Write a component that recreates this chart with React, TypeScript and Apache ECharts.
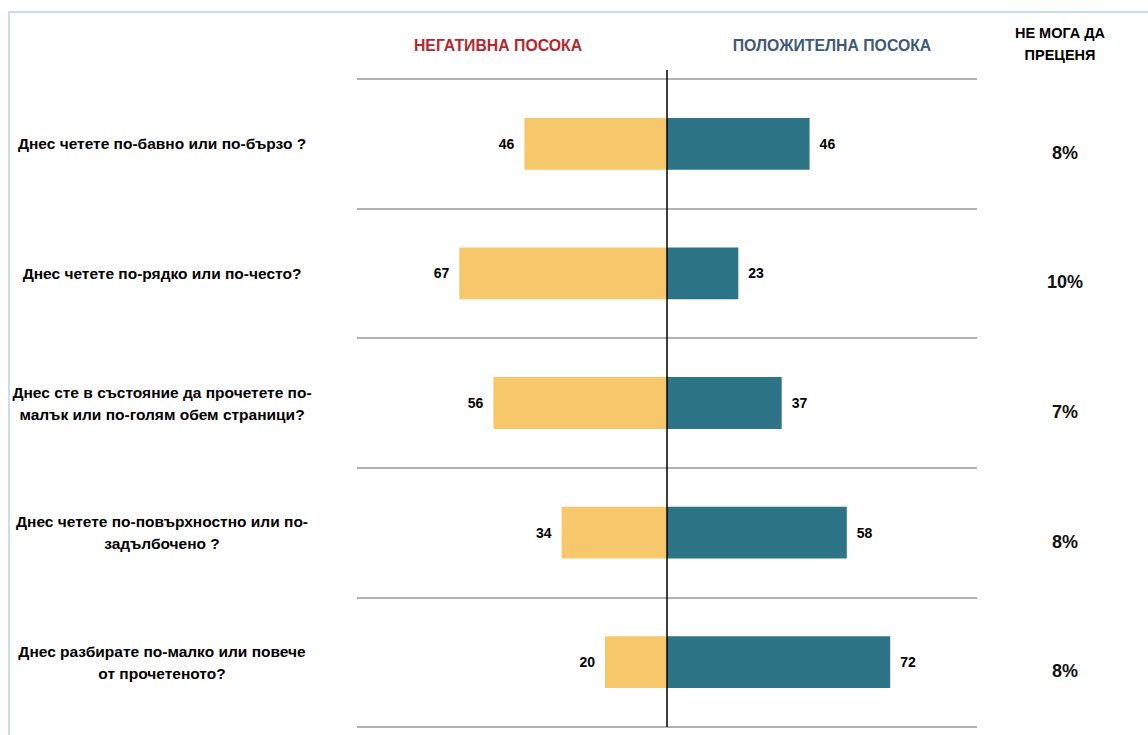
import React, { useEffect, useRef } from "react";
import * as echarts from "echarts";

const categories = [
  "Днес четете по-бавно или по-бързо ?",
  "Днес четете по-рядко или по-често?",
  "Днес сте в състояние да прочетете по-\nмалък или по-голям обем страници?",
  "Днес четете по-повърхностно или по-\nзадълбочено ?",
  "Днес разбирате по-малко или повече\nот прочетеното?",
];
const negativeValues = [46, 67, 56, 34, 20];
const positiveValues = [46, 23, 37, 58, 72];
const unsureValues = [8, 10, 7, 8, 8];
const negativeTitle = "НЕГАТИВНА ПОСОКА";
const positiveTitle = "ПОЛОЖИТЕЛНА ПОСОКА";
const unsureTitle = "НЕ МОГА ДА\nПРЕЦЕНЯ";

const FONT = "'Liberation Sans', Arial, sans-serif";

export default function App() {
  const ref = useRef<HTMLDivElement>(null);
  useEffect(() => {
    document.body.style.margin = "0";
    const chart = echarts.init(ref.current!, null, { renderer: "svg" });
    chart.setOption({
      animation: false,
      textStyle: { fontFamily: FONT },
      grid: { left: 357, right: 171, top: 79, bottom: 8, containLabel: false },
      xAxis: {
        type: "value",
        min: -100,
        max: 100,
        show: false,
      },
      yAxis: [
        {
          type: "category",
          data: categories,
          inverse: true,
          axisLine: { show: false },
          axisTick: { show: false },
          splitLine: {
            show: true,
            showMinLine: true,
            showMaxLine: true,
            lineStyle: { color: "#999999", width: 1.5 },
          },
          axisLabel: {
            align: "center",
            margin: 195,
            fontFamily: FONT,
            fontSize: 15.5,
            fontWeight: "bold",
            color: "#000",
            lineHeight: 22,
            interval: 0,
          },
        },
        {
          type: "category",
          data: unsureValues.map((v) => v + "%"),
          inverse: true,
          position: "right",
          axisLine: { show: false },
          axisTick: { show: false },
          splitLine: { show: false },
          axisLabel: {
            align: "center",
            verticalAlign: "top",
            lineHeight: 18,
            margin: 88,
            fontFamily: FONT,
            fontSize: 18,
            fontWeight: "bold",
            color: "#111",
            interval: 0,
          },
        },
      ],
      series: [
        {
          type: "bar",
          name: "negative",
          stack: "total",
          yAxisIndex: 0,
          barWidth: "40%",
          data: negativeValues.map((v) => -v),
          itemStyle: { color: "#F7C76B" },
          label: {
            show: true,
            position: "left",
            distance: 10,
            formatter: (p: any) => String(Math.abs(p.value)),
            fontFamily: FONT,
            fontSize: 14,
            fontWeight: "bold",
            color: "#000",
          },
        },
        {
          type: "bar",
          name: "positive",
          stack: "total",
          yAxisIndex: 0,
          barWidth: "40%",
          data: positiveValues,
          itemStyle: { color: "#2E7487" },
          label: {
            show: true,
            position: "right",
            distance: 10,
            fontFamily: FONT,
            fontSize: 14,
            fontWeight: "bold",
            color: "#000",
          },
        },
      ],
    });

    const x0 = chart.convertToPixel({ xAxisIndex: 0 }, 0) as number;
    const yFirst = chart.convertToPixel({ yAxisIndex: 0 }, categories[0]) as number;
    const ySecond = chart.convertToPixel({ yAxisIndex: 0 }, categories[1]) as number;
    const yLast = chart.convertToPixel({ yAxisIndex: 0 }, categories[categories.length - 1]) as number;
    const band = ySecond - yFirst;

    chart.setOption({
      graphic: [
        {
          type: "rect",
          silent: true,
          shape: { x: 9, y: 12, width: 1300, height: 900 },
          style: { fill: "none", stroke: "#C9DDF0", lineWidth: 2 },
        },
        {
          type: "line",
          silent: true,
          shape: { x1: x0, y1: yFirst - band / 2 - 9, x2: x0, y2: yLast + band / 2 },
          style: { stroke: "#000", lineWidth: 1.5 },
          z: 10,
        },
        {
          type: "text",
          x: 498,
          y: 45,
          style: {
            text: negativeTitle,
            fill: "#B3282D",
            font: `bold 15.8px ${FONT}`,
            align: "center",
            verticalAlign: "middle",
          },
        },
        {
          type: "text",
          x: 832,
          y: 45,
          style: {
            text: positiveTitle,
            fill: "#3E5A76",
            font: `bold 15.8px ${FONT}`,
            align: "center",
            verticalAlign: "middle",
          },
        },
        {
          type: "text",
          x: 1060,
          y: 44,
          style: {
            text: unsureTitle,
            fill: "#000",
            font: `bold 14.5px ${FONT}`,
            lineHeight: 22,
            align: "center",
            verticalAlign: "middle",
          },
        },
      ],
    });

    return () => chart.dispose();
  }, []);
  return <div ref={ref} style={{ width: 1148, height: 735 }} />;
}
